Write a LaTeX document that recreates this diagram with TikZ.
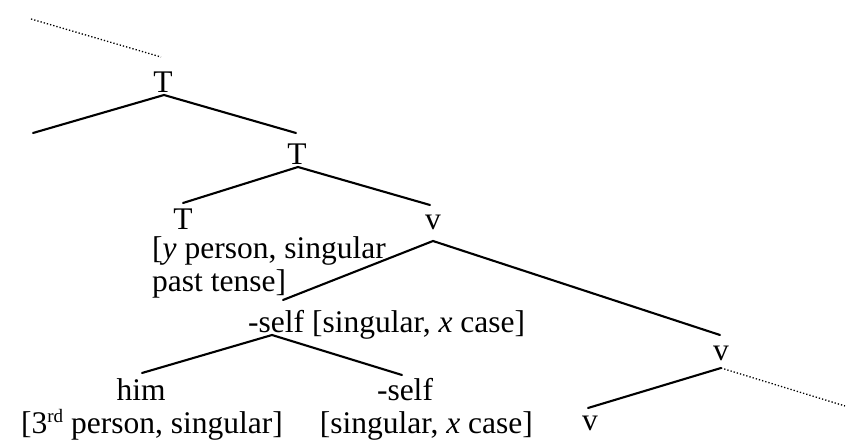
\documentclass[tikz,border=0pt]{standalone}
\usepackage{fontspec}
\setmainfont{Liberation Serif}
\newcommand{\supr}[1]{\raisebox{11pt}{\fontsize{19}{20}\selectfont #1}}
\begin{document}
\begin{tikzpicture}[x=1pt,y=-1pt,
  lbl/.style={inner sep=0pt,anchor=base,font=\fontsize{31.5}{36}\selectfont},
  lbll/.style={inner sep=0pt,anchor=base west,font=\fontsize{31.5}{36}\selectfont},
  lblr/.style={inner sep=0pt,anchor=base east,font=\fontsize{31.5}{36}\selectfont},
  branch/.style={line width=2.1pt,line cap=round},
  dots/.style={line width=1.3pt,dotted}]
\useasboundingbox (0,0) rectangle (846,443);
% labels
\node[lbl] (T1) at (163,93) {T};
\node[lbl] (T2) at (297,165) {T};
\node[lbl] (T3) at (183,230) {T};
\node[lbll] (T3a) at (152,259) {[\textit{y} person, singular};
\node[lbll] (T3b) at (152,292) {past tense]};
\node[lbl] (v1) at (433,230) {v};
\node[lbll] (self1) at (248,333) {-self [singular, \textit{x} case]};
\node[lbl] (him) at (141,401) {him};
\node[lblr] (himf) at (283,433) {[3\supr{rd} person, singular]};
\node[lbl] (self2) at (405,401) {-self};
\node[lblr] (self2f) at (533,433) {[singular, \textit{x} case]};
\node[lbl] (v2) at (721,361) {v};
\node[lbl] (v3) at (590,431) {v};
% branch points
\coordinate (top) at (31,19);
\coordinate (topend) at (161,57);
\coordinate (T1d) at (164,95);
\coordinate (T1l) at (33,133);
\coordinate (T2u) at (296,133);
\coordinate (T2d) at (298,167);
\coordinate (T3u) at (183,203);
\coordinate (v1u) at (430,205);
\coordinate (v1d) at (433,241);
\coordinate (self1u) at (283,300);
\coordinate (v2u) at (720,335);
\coordinate (self1d) at (272,335);
\coordinate (himu) at (142,373);
\coordinate (self2u) at (402,375);
\coordinate (v2d) at (721,368);
\coordinate (v3u) at (588,408);
\coordinate (far) at (845,406);
% connectors
\draw[dots] (top) -- (topend);
\draw[branch] (T1l) -- (T1d) -- (T2u);
\draw[branch] (T3u) -- (T2d) -- (v1u);
\draw[branch] (self1u) -- (v1d) -- (v2u);
\draw[branch] (himu) -- (self1d) -- (self2u);
\draw[branch] (v3u) -- (v2d);
\draw[dots] (v2d) -- (far);
\end{tikzpicture}
\end{document}
